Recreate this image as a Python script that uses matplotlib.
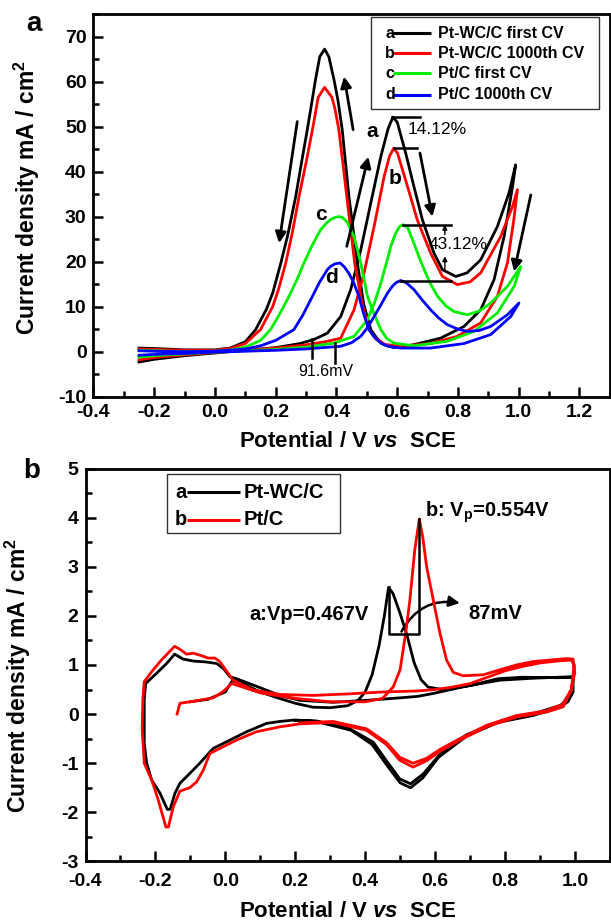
import matplotlib
matplotlib.use('Agg')
import matplotlib.pyplot as plt
from matplotlib.patches import Rectangle, FancyArrowPatch
from matplotlib.ticker import MultipleLocator

plt.rcParams['font.family'] = ['Liberation Sans', 'DejaVu Sans']
plt.rcParams['font.weight'] = 'bold'
plt.rcParams['axes.unicode_minus'] = False
plt.rcParams['mathtext.fontset'] = 'custom'
plt.rcParams['mathtext.rm'] = 'Liberation Sans:bold'
plt.rcParams['mathtext.bf'] = 'Liberation Sans:bold'
plt.rcParams['mathtext.it'] = 'Liberation Sans:italic:bold'

# ---------------
# panel a: methanol oxidation CVs (forward scan then backward scan)
# ---------------
a_labels = ['Pt-WC/C first CV', 'Pt-WC/C 1000th CV', 'Pt/C first CV', 'Pt/C 1000th CV']
a_letters = ['a', 'b', 'c', 'd']
a_colors = ['black', '#ff0000', '#00ee00', '#0000ff']

pwc_first_x = [-0.25, -0.2, -0.1, 0.0, 0.1, 0.2, 0.28, 0.326, 0.37, 0.414, 0.447, 0.48, 0.513, 0.546,
               0.57, 0.586, 0.60, 0.628, 0.655, 0.683, 0.721, 0.749, 0.793, 0.83, 0.875, 0.93, 0.968, 0.99,
               0.98, 0.952, 0.919, 0.875, 0.82, 0.743, 0.655, 0.59, 0.556, 0.535, 0.513, 0.49, 0.469,
               0.441, 0.419, 0.405, 0.392, 0.375, 0.361, 0.345, 0.331, 0.318, 0.304, 0.285, 0.266, 0.24,
               0.217, 0.19, 0.17, 0.134, 0.1, 0.05, 0.0, -0.1, -0.2, -0.25]
pwc_first_y = [-2.3, -1.7, -0.9, -0.3, 0.3, 0.9, 1.8, 2.7, 4.1, 7.8, 13.8, 22.6, 33.0, 43.3,
               49.5, 52.1, 51.0, 44.1, 36.7, 29.3, 21.9, 18.2, 16.7, 17.5, 20.4, 27.8, 35.2, 41.5,
               36.7, 25.6, 16.0, 9.3, 5.6, 3.0, 1.55, 0.9, 1.55, 2.8, 4.9, 10.5, 19.7,
               34.5, 49.3, 55.8, 60.4, 65.5, 67.2, 65.5, 60.4, 55.0, 49.3, 42.0, 34.5, 26.0,
               19.7, 13.0, 9.5, 4.9, 2.2, 0.8, 0.4, 0.4, 0.7, 0.8]

pwc_1000_x = [-0.25, -0.2, -0.1, 0.0, 0.1, 0.2, 0.3, 0.37, 0.414, 0.458, 0.491, 0.524, 0.557, 0.575,
              0.589, 0.601, 0.634, 0.666, 0.71, 0.749, 0.798, 0.84, 0.875, 0.941, 0.98, 0.996,
              0.984, 0.963, 0.93, 0.875, 0.798, 0.71, 0.611, 0.56, 0.53, 0.507, 0.485, 0.46, 0.434,
              0.408, 0.395, 0.385, 0.361, 0.34, 0.321, 0.3, 0.277, 0.255, 0.233, 0.21, 0.19, 0.15,
              0.1, 0.05, 0.0, -0.1, -0.2, -0.25]
pwc_1000_y = [-1.8, -1.3, -0.7, -0.2, 0.3, 0.8, 1.5, 2.3, 3.0, 9.3, 17.5, 27.8, 38.9, 43.5,
              45.2, 44.1, 36.7, 29.3, 21.9, 16.7, 14.9, 15.5, 17.5, 25.6, 32.3, 36.0,
              29.3, 19.7, 12.3, 6.4, 3.4, 1.8, 1.2, 1.6, 2.8, 4.9, 10.5, 19.7, 34.5,
              49.3, 54.0, 56.5, 58.7, 56.5, 49.3, 42.0, 34.5, 26.5, 19.7, 14.0, 10.0, 4.9,
              1.8, 0.7, 0.3, 0.3, 0.5, 0.6]

pt_first_x = [-0.25, -0.2, -0.1, 0.0, 0.1, 0.2, 0.3, 0.392, 0.458, 0.502, 0.525, 0.546, 0.565, 0.579,
              0.595, 0.608, 0.62, 0.635, 0.655, 0.672, 0.689, 0.71, 0.733, 0.76, 0.787, 0.831, 0.87,
              0.908, 0.963, 1.007,
              0.985, 0.93, 0.853, 0.765, 0.655, 0.589, 0.565, 0.546, 0.525, 0.502, 0.48, 0.458, 0.435,
              0.42, 0.408, 0.395, 0.38, 0.365, 0.348, 0.32, 0.293, 0.27, 0.244, 0.21, 0.183, 0.15, 0.1,
              0.05, 0.0, -0.1, -0.2, -0.25]
pt_first_y = [-1.2, -0.9, -0.5, -0.1, 0.2, 0.5, 1.0, 1.9, 3.4, 7.1, 10.8, 15.2, 19.8, 23.4,
              26.3, 27.8, 28.2, 27.5, 24.1, 21.0, 18.2, 15.0, 12.3, 10.2, 8.9, 8.2, 9.0,
              10.8, 14.5, 18.9,
              14.5, 8.6, 4.5, 2.3, 1.3, 1.9, 3.0, 4.9, 8.2, 12.3, 19.7, 25.5, 28.8,
              29.8, 30.0, 29.8, 29.3, 28.4, 27.1, 23.6, 19.7, 16.0, 12.3, 8.0, 4.9, 2.5, 1.0,
              0.4, 0.1, 0.0, 0.2, 0.3]

pt_1000_x = [-0.25, -0.2, -0.1, 0.0, 0.1, 0.2, 0.3, 0.414, 0.45, 0.48, 0.503, 0.524, 0.548, 0.568, 0.585,
             0.598, 0.612, 0.63, 0.655, 0.682, 0.71, 0.738, 0.765, 0.8, 0.831, 0.87, 0.908, 0.963, 1.001,
             0.974, 0.908, 0.82, 0.71, 0.611, 0.57, 0.546, 0.525, 0.507, 0.49, 0.474, 0.455, 0.44,
             0.425, 0.412, 0.395, 0.38, 0.37, 0.345, 0.321, 0.29, 0.26, 0.2, 0.15, 0.1, 0.0, -0.1,
             -0.2, -0.25]
pt_1000_y = [-0.8, -0.6, -0.4, -0.1, 0.1, 0.3, 0.6, 1.2, 2.0, 3.4, 5.4, 7.8, 10.6, 13.0, 14.6,
             15.4, 15.8, 15.3, 13.8, 11.5, 9.3, 7.4, 6.0, 5.0, 4.5, 4.7, 5.6, 8.2, 10.8,
             7.8, 3.8, 1.8, 0.8, 0.8, 1.2, 1.9, 3.2, 4.9, 8.3, 12.3, 15.6, 17.5,
             18.9, 19.7, 19.5, 18.9, 18.2, 15.5, 12.3, 8.2, 4.9, 2.5, 1.3, 0.6, 0.1, 0.0,
             0.1, 0.2]

a_curves = [(pwc_first_x, pwc_first_y), (pwc_1000_x, pwc_1000_y),
            (pt_first_x, pt_first_y), (pt_1000_x, pt_1000_y)]

# ---------------
# panel b: CO stripping CVs (two cycles each)
# ---------------
b_labels = ['Pt-WC/C', 'Pt/C']
b_letters = ['a', 'b']
b_colors = ['black', '#ff0000']

co_pwc_x = [-0.10, -0.05, 0.0, 0.02, 0.05, 0.1, 0.15, 0.2, 0.25, 0.3, 0.35, 0.38, 0.40, 0.42, 0.44,
            0.455, 0.467, 0.48, 0.50, 0.52, 0.54, 0.56, 0.58, 0.62, 0.7, 0.78, 0.85, 0.95, 0.995,
            0.995, 0.98, 0.95, 0.88, 0.78, 0.69, 0.61, 0.565, 0.53, 0.50, 0.46, 0.42, 0.36, 0.26,
            0.2, 0.156, 0.118, 0.061, 0.013, -0.035, -0.073, -0.102, -0.13, -0.144, -0.158, -0.166,
            -0.187, -0.211, -0.225, -0.232, -0.232, -0.228, -0.197, -0.168, -0.145, -0.121, -0.092,
            -0.054, -0.025, -0.006, 0.013, 0.032, 0.08, 0.156, 0.213, 0.308, 0.404, 0.499, 0.55,
            0.595, 0.69, 0.785, 0.881, 0.99, 0.995, 0.99, 0.96, 0.88, 0.785, 0.69, 0.614, 0.566,
            0.53, 0.499, 0.461, 0.423, 0.356, 0.261, 0.2]
co_pwc_y = [0.25, 0.30, 0.45, 0.68, 0.62, 0.45, 0.33, 0.22, 0.14, 0.13, 0.17, 0.28, 0.45, 0.8, 1.4,
            2.0, 2.58, 2.45, 2.05, 1.6, 1.05, 0.7, 0.55, 0.5, 0.58, 0.72, 0.75, 0.74, 0.75,
            0.45, 0.25, 0.12, -0.03, -0.17, -0.45, -0.88, -1.3, -1.5, -1.4, -1.02, -0.62, -0.33, -0.15,
            -0.12, -0.15, -0.19, -0.36, -0.53, -0.70, -1.0, -1.21, -1.41, -1.61, -1.94, -1.94,
            -1.61, -1.34, -1.0, -0.6, 0.3, 0.62, 0.83, 1.03, 1.22, 1.12, 1.08,
            1.06, 1.03, 0.93, 0.76, 0.72, 0.59, 0.38, 0.28, 0.24, 0.28, 0.33, 0.36,
            0.42, 0.57, 0.69, 0.73, 0.76, 0.7, 0.4, 0.18, 0.0, -0.15, -0.42, -0.82, -1.22,
            -1.42, -1.32, -0.95, -0.57, -0.3, -0.14, -0.13]

co_pt_x = [-0.138, -0.130, -0.092, -0.035, -0.006, 0.018, 0.05, 0.1, 0.2, 0.3, 0.4, 0.45, 0.48, 0.50,
           0.516, 0.528, 0.542, 0.555, 0.565, 0.576, 0.595, 0.614, 0.633, 0.652, 0.68, 0.738, 0.785,
           0.833, 0.881, 0.976, 0.995, 1.0, 0.99, 0.967, 0.919, 0.833, 0.747, 0.671, 0.614, 0.576,
           0.537, 0.499, 0.461, 0.404, 0.308, 0.213, 0.156, 0.089, 0.032, -0.016, -0.044, -0.063,
           -0.082, -0.102, -0.13, -0.149, -0.163, -0.17, -0.192, -0.211, -0.232, -0.238, -0.236,
           -0.232, -0.211, -0.183, -0.164, -0.145, -0.130, -0.111, -0.092, -0.073, -0.049, -0.030,
           -0.016, 0.003, 0.022, 0.08, 0.156, 0.25, 0.35, 0.45, 0.55, 0.6, 0.65, 0.7, 0.75, 0.8,
           0.85, 0.9, 0.95, 0.99, 0.998, 0.99, 0.965, 0.92, 0.833, 0.747, 0.671, 0.614, 0.576,
           0.537, 0.499, 0.461, 0.404, 0.308, 0.213]
co_pt_y = [0.0, 0.22, 0.26, 0.33, 0.46, 0.62, 0.55, 0.43, 0.32, 0.25, 0.25, 0.32, 0.55, 0.9,
           1.65, 2.32, 3.34, 3.97, 3.6, 3.0, 2.32, 1.65, 1.10, 0.85, 0.78, 0.80, 0.9,
           1.0, 1.07, 1.13, 1.12, 0.85, 0.49, 0.15, 0.04, -0.06, -0.26, -0.53, -0.76, -0.95,
           -1.08, -0.94, -0.62, -0.33, -0.17, -0.2, -0.26, -0.36, -0.53, -0.70, -0.80, -1.14,
           -1.38, -1.5, -1.57, -1.89, -2.3, -2.3, -1.75, -1.34, -1.0, -0.3, 0.3,
           0.66, 0.86, 1.10, 1.24, 1.38, 1.32, 1.22, 1.24, 1.20, 1.14, 1.14,
           1.07, 0.88, 0.69, 0.49, 0.40, 0.38, 0.41, 0.45, 0.47, 0.5, 0.55, 0.62, 0.75, 0.88,
           0.97, 1.04, 1.08, 1.1, 1.0, 0.5, 0.2, 0.07, -0.03, -0.23, -0.5, -0.72, -0.9,
           -1.0, -0.88, -0.58, -0.3, -0.15, -0.18]

b_curves = [(co_pwc_x, co_pwc_y), (co_pt_x, co_pt_y)]


def style_axes(ax, xlim, ylim, xmaj, xmin, ymaj, ymin, xpad=5):
    ax.set_xlim(*xlim)
    ax.set_ylim(*ylim)
    ax.xaxis.set_major_locator(MultipleLocator(xmaj))
    ax.xaxis.set_minor_locator(MultipleLocator(xmin))
    ax.yaxis.set_major_locator(MultipleLocator(ymaj))
    ax.yaxis.set_minor_locator(MultipleLocator(ymin))
    ax.tick_params(which='both', direction='in', top=False, right=False, width=1.8, labelsize=14)
    ax.tick_params(which='major', length=7, pad=5)
    ax.tick_params(axis='x', which='major', pad=xpad)
    ax.tick_params(which='minor', length=4)
    for s in ax.spines.values():
        s.set_linewidth(2)
    ax.xaxis.set_major_formatter(plt.FuncFormatter(lambda v, p: '%.1f' % v))


def arrow(ax, start, end, lw=2.0, scale=16):
    ax.annotate('', xy=end, xytext=start,
                arrowprops=dict(arrowstyle='-|>', color='black', lw=lw, mutation_scale=scale,
                                shrinkA=0, shrinkB=0))


def draw_legend(ax, box, rows, x_letter, x_line, x_text, letters, colors, labels, size):
    ax.add_patch(Rectangle((box[0], box[1]), box[2], box[3], transform=ax.transAxes,
                           fill=False, lw=1.0, edgecolor='#333333', zorder=5))
    for r, let, c, lab in zip(rows, letters, colors, labels):
        ax.text(x_letter, r, let, transform=ax.transAxes, ha='center', va='center', fontsize=size)
        ax.plot(x_line, [r, r], color=c, lw=2.2, transform=ax.transAxes, solid_capstyle='butt')
        ax.text(x_text, r, lab, transform=ax.transAxes, ha='left', va='center', fontsize=size)


def produce_plot():
    fig = plt.figure(figsize=(6.11, 9.21), dpi=100)

    # ----- panel a -----
    ax = fig.add_axes([0.153, 0.5693, 0.845, 0.4155])
    for (xs, ys), c in zip(a_curves, a_colors):
        ax.plot(xs, ys, color=c, lw=2.0)
    style_axes(ax, (-0.4, 1.3), (-10, 75), 0.2, 0.1, 10, 5)
    ax.set_xlabel('Potential / V $\\mathit{vs}$  SCE', fontsize=16, fontweight='bold')
    ax.set_ylabel('Current density mA / cm$^2$', fontsize=16.5, fontweight='bold')
    ax.xaxis.set_label_coords(0.492, -0.09)
    ax.yaxis.set_label_coords(-0.10, 0.52)

    arrow(ax, (0.271, 51.1), (0.211, 24.1))
    arrow(ax, (0.455, 49.3), (0.425, 61.1))
    arrow(ax, (0.434, 23.4), (0.505, 43.3))
    arrow(ax, (0.675, 44.1), (0.716, 30.0))
    arrow(ax, (1.040, 34.8), (0.985, 17.8))

    ax.plot([0.584, 0.674], [52.1, 52.1], color='black', lw=1.8)
    ax.plot([0.589, 0.666], [45.3, 45.3], color='black', lw=1.8)
    ax.plot([0.620, 0.776], [28.2, 28.2], color='black', lw=1.8)
    ax.plot([0.609, 0.776], [15.6, 15.6], color='black', lw=1.8)
    arrow(ax, (0.757, 26.0), (0.757, 28.2), lw=1.0, scale=7)
    arrow(ax, (0.757, 18.2), (0.757, 21.2), lw=1.0, scale=7)
    ax.text(0.634, 49.3, '14.12%', fontsize=12.5, fontweight='normal', va='center')
    ax.text(0.705, 23.7, '43.12%', fontsize=12.5, fontweight='normal', va='center')

    ax.text(0.518, 48.9, 'a', fontsize=15, ha='center', va='center')
    ax.text(0.592, 38.5, 'b', fontsize=15, ha='center', va='center')
    ax.text(0.350, 30.4, 'c', fontsize=15, ha='center', va='center')
    ax.text(0.383, 16.4, 'd', fontsize=15, ha='center', va='center')

    ax.plot([0.321, 0.321], [2.7, -1.4], color='black', lw=1.8)
    ax.plot([0.394, 0.394], [1.9, -2.5], color='black', lw=1.8)
    ax.text(0.364, -4.3, '91.6mV', fontsize=11.5, fontweight='normal', ha='center', va='center')

    draw_legend(ax, (0.537, 0.751, 0.442, 0.240), [0.950, 0.897, 0.845, 0.789],
                0.574, [0.580, 0.654], 0.667, a_letters, a_colors, a_labels, 11.5)
    fig.text(0.055, 0.974, 'a', fontsize=20, ha='center', va='center')

    # ----- panel b -----
    ax = fig.add_axes([0.140, 0.0647, 0.858, 0.4266])
    for (xs, ys), c in zip(b_curves, b_colors):
        ax.plot(xs, ys, color=c, lw=2.0)
    style_axes(ax, (-0.4, 1.1), (-3, 5), 0.2, 0.1, 1, 0.5, xpad=8)
    ax.set_xlabel('Potential / V $\\mathit{vs}$  SCE', fontsize=16, fontweight='bold')
    ax.set_ylabel('Current density mA / cm$^2$', fontsize=16.5, fontweight='bold')
    ax.xaxis.set_label_coords(0.4995, -0.1)
    ax.yaxis.set_label_coords(-0.1005, 0.474)

    ax.plot([0.467, 0.467, 0.554, 0.554], [2.58, 1.63, 1.63, 3.97], color='black', lw=1.8)
    ax.add_patch(FancyArrowPatch((0.504, 1.68), (0.671, 2.26), connectionstyle='arc3,rad=-0.35',
                                 arrowstyle='-|>', mutation_scale=16, color='black', lw=1.8,
                                 shrinkA=0, shrinkB=0))
    ax.text(0.695, 2.05, '87mV', fontsize=14.5, va='center')
    ax.text(0.41, 2.02, 'a:Vp=0.467V', fontsize=14.5, ha='right', va='center')
    ax.text(0.570, 4.11, 'b: V$_\\mathrm{p}$=0.554V', fontsize=14.5, va='center')

    draw_legend(ax, (0.156, 0.837, 0.329, 0.148), [0.940, 0.869],
                0.182, [0.193, 0.294], 0.301, b_letters, b_colors, b_labels, 14.5)
    fig.text(0.052, 0.489, 'b', fontsize=20, ha='center', va='center')

    fig.savefig('out.png', dpi=100)


produce_plot()
